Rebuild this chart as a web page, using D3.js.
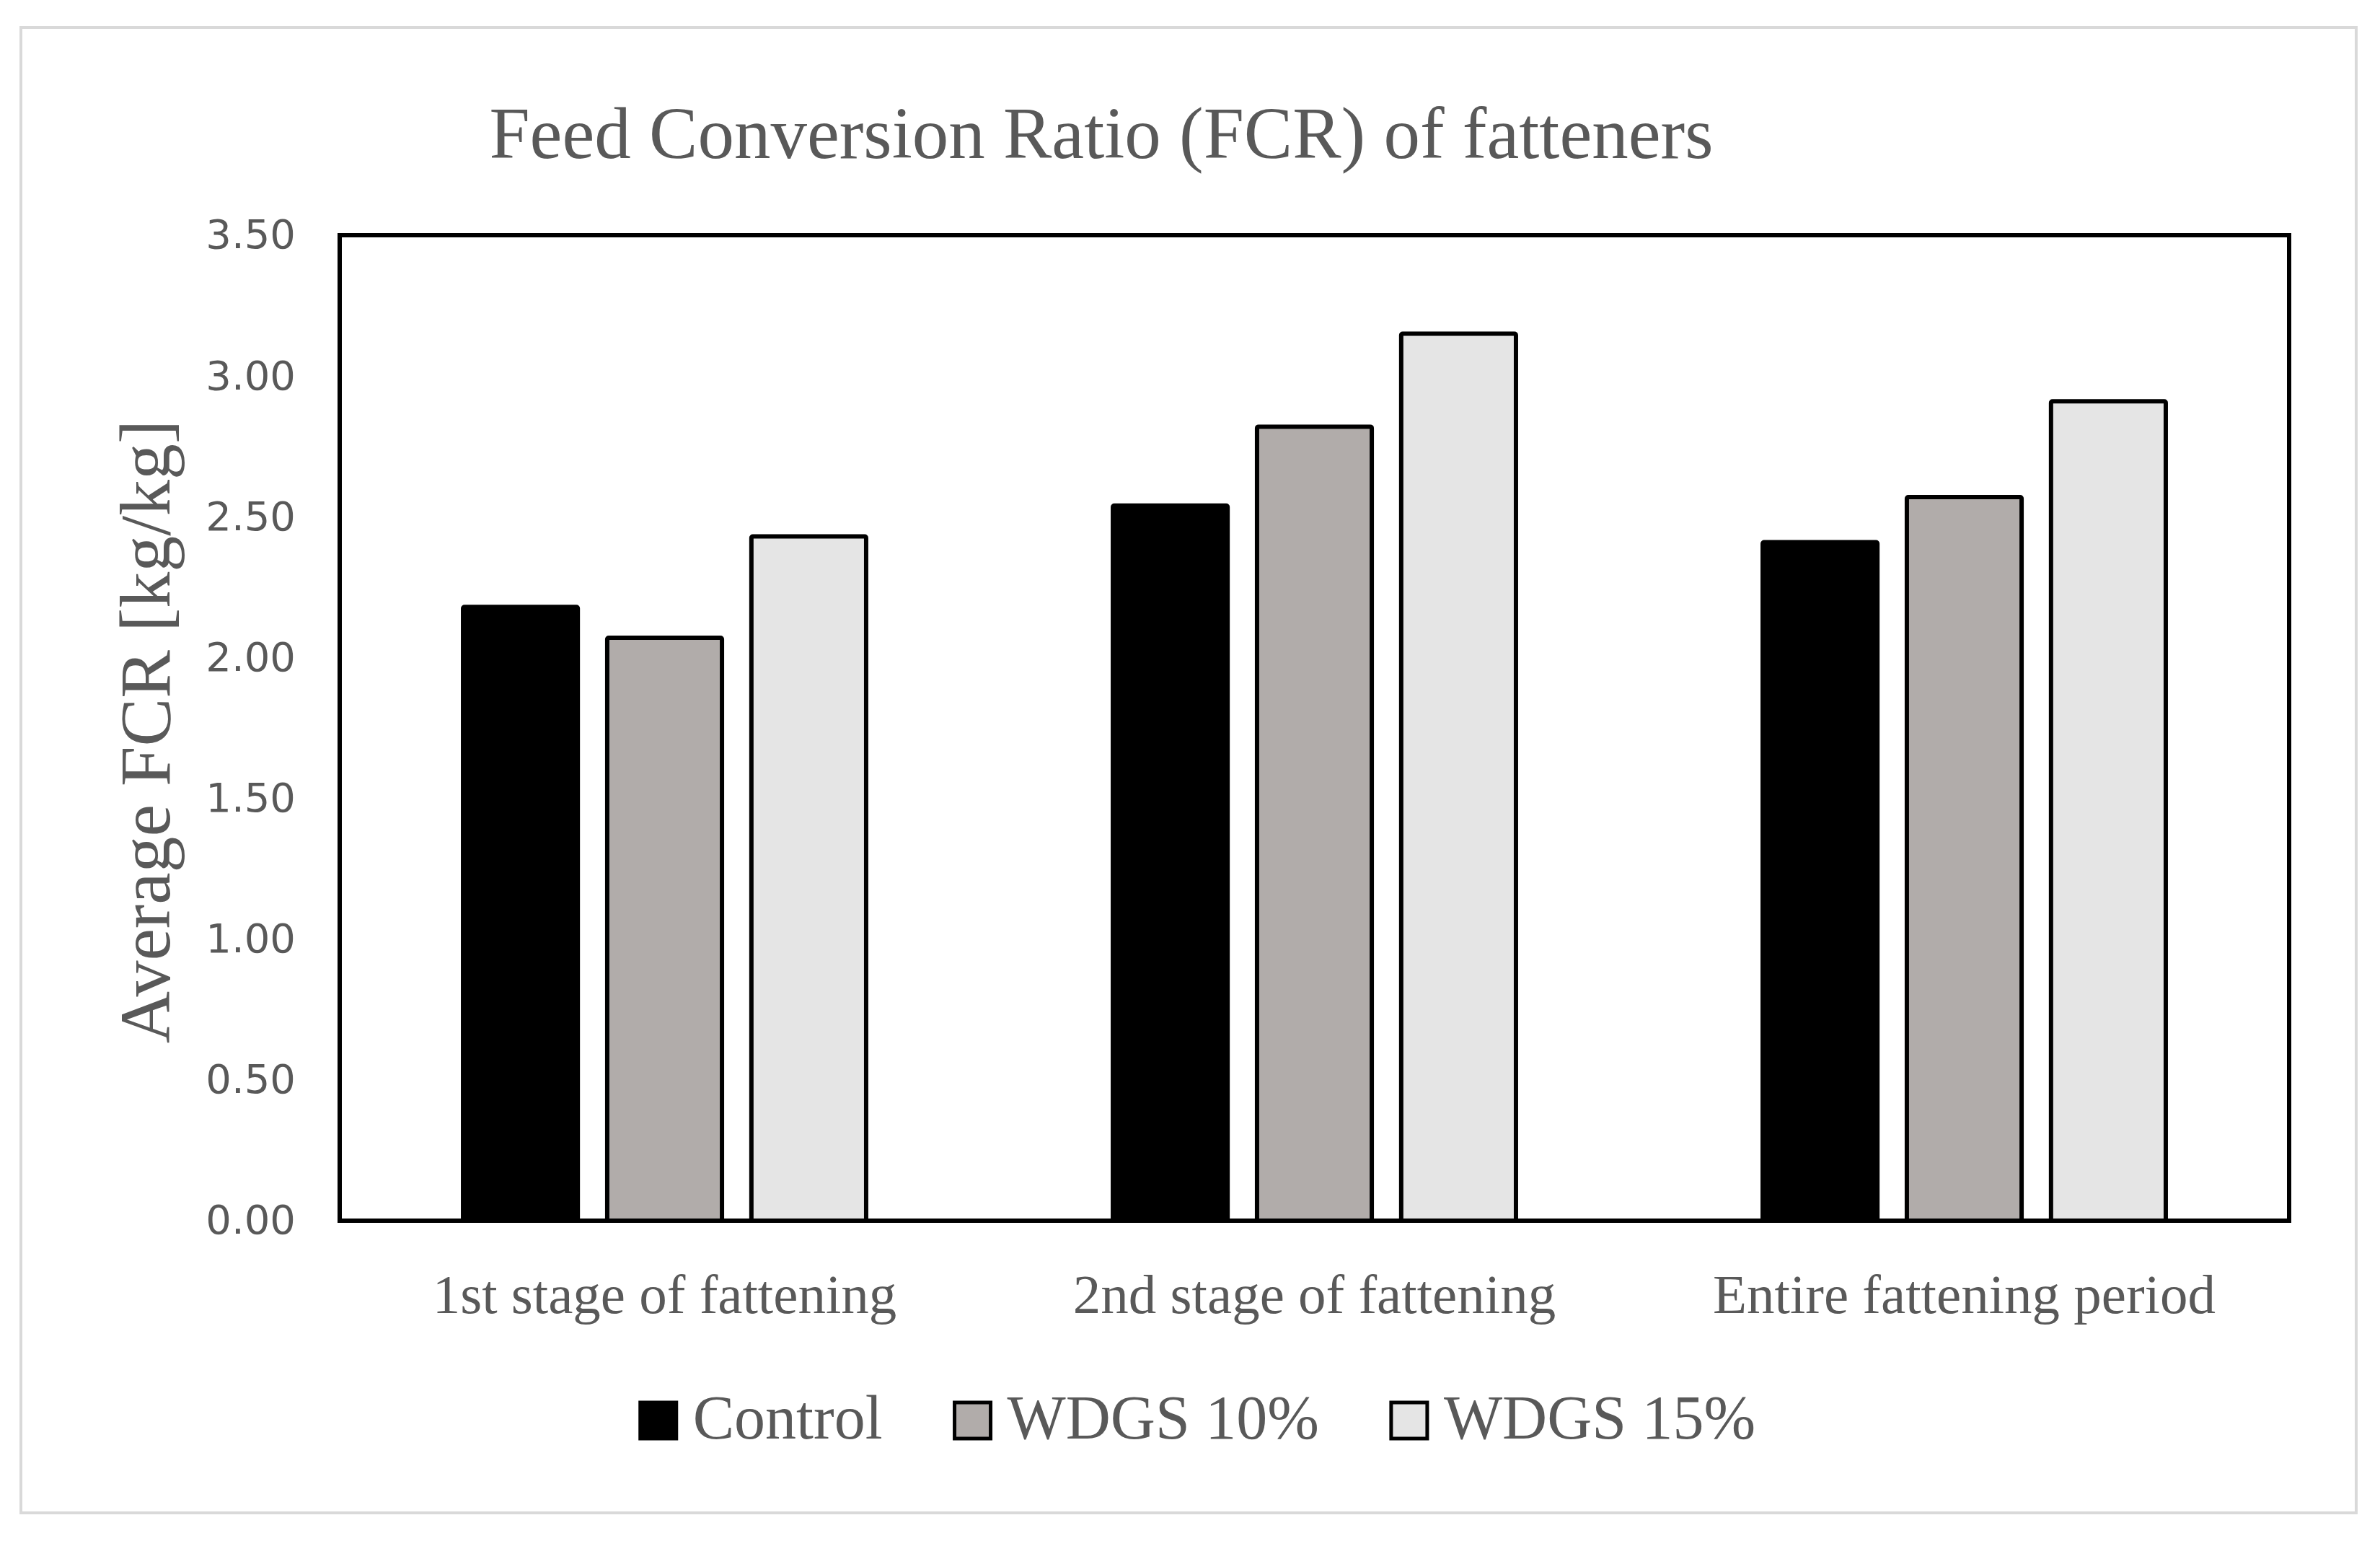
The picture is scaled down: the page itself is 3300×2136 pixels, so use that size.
<!DOCTYPE html>
<html>
<head>
<meta charset="utf-8">
<script src="https://cdn.jsdelivr.net/npm/d3@7"></script>
<style>
  html, body { margin: 0; padding: 0; background: #ffffff; }
  svg { display: block; }
</style>
</head>
<body>
<svg id="chart" width="3300" height="2136"></svg>
<script>
// ---- data ----
const categories = ["1st stage of fattening", "2nd stage of fattening", "Entire fattening period"];
const seriesNames = ["Control", "WDGS 10%", "WDGS 15%"];
const controlValues = [2.18, 2.54, 2.41];
const wdgs10Values = [2.07, 2.82, 2.57];
const wdgs15Values = [2.43, 3.15, 2.91];
const seriesColors = ["#000000", "#b1acaa", "#e5e5e5"];
const yTickValues = [0, 0.5, 1.0, 1.5, 2.0, 2.5, 3.0, 3.5];
const chartTitle = "Feed Conversion Ratio (FCR) of fatteners";
const yAxisTitle = "Average FCR [kg/kg]";

const seriesValues = [controlValues, wdgs10Values, wdgs15Values];

// ---- layout ----
const W = 3300, H = 2136;
const plot = { left: 471, right: 3174, top: 326, bottom: 1692 };
const textGray = "#595959";
const serif = "'Liberation Serif', 'Times New Roman', serif";
const sans = "'DejaVu Sans', Verdana, sans-serif";

const svg = d3.select("#chart");

svg.append("rect").attr("x", 0).attr("y", 0).attr("width", W).attr("height", H).attr("fill", "#ffffff");

// outer frame
svg.append("rect")
  .attr("x", 29).attr("y", 38).attr("width", 3267 - 29).attr("height", 2097 - 38)
  .attr("fill", "none").attr("stroke", "#d9d9d9").attr("stroke-width", 4);

// scales
const x0 = d3.scaleBand().domain(categories).range([plot.left, plot.right])
  .paddingInner(0.373).paddingOuter(0.1865);
const x1 = d3.scaleBand().domain(seriesNames).range([0, x0.bandwidth()])
  .paddingInner(0.174).paddingOuter(0);
const y = d3.scaleLinear().domain([0, 3.5]).range([plot.bottom, plot.top]);

// title
svg.append("text")
  .attr("x", 1527).attr("y", 219)
  .attr("text-anchor", "middle")
  .attr("font-family", serif).attr("font-size", 101)
  .attr("fill", textGray)
  .text(chartTitle);

// y axis labels
const yAxis = d3.axisLeft(y).tickValues(yTickValues).tickFormat(d3.format(".2f"))
  .tickSize(0).tickPadding(plot.left - 410);
const gy = svg.append("g").attr("transform", `translate(${plot.left},0)`).call(yAxis);
gy.select(".domain").remove();
gy.selectAll("text")
  .attr("font-family", sans).attr("font-size", 56)
  .attr("fill", textGray);

// y axis title
svg.append("text")
  .attr("transform", `translate(235, ${(plot.top + plot.bottom) / 2 + 5}) rotate(-90)`)
  .attr("text-anchor", "middle")
  .attr("font-family", serif).attr("font-size", 100)
  .attr("fill", textGray)
  .text(yAxisTitle);

// bars
const groups = svg.append("g").selectAll("g")
  .data(categories)
  .join("g")
  .attr("transform", d => `translate(${x0(d)},0)`);

groups.selectAll("rect")
  .data((c, ci) => seriesNames.map((s, si) => ({ s, si, v: seriesValues[si][ci] })))
  .join("rect")
  .attr("x", d => x1(d.s) + 3)
  .attr("width", x1.bandwidth() - 6)
  .attr("y", d => y(d.v))
  .attr("height", d => y(0) - y(d.v))
  .attr("rx", 2)
  .attr("fill", d => seriesColors[d.si])
  .attr("stroke", "#000000")
  .attr("stroke-width", 6);

// plot area border
svg.append("rect")
  .attr("x", plot.left).attr("y", plot.top)
  .attr("width", plot.right - plot.left).attr("height", plot.bottom - plot.top)
  .attr("fill", "none").attr("stroke", "#000000").attr("stroke-width", 6);

// x axis labels
const xAxis = d3.axisBottom(x0).tickSize(0).tickPadding(0);
const gx = svg.append("g").attr("transform", `translate(0,${plot.bottom})`).call(xAxis);
gx.select(".domain").remove();
gx.selectAll("text")
  .attr("y", 128).attr("dy", 0)
  .attr("font-family", serif).attr("font-size", 77)
  .attr("fill", textGray);

// legend
const legend = svg.append("g");
const sw = 50, gapText = 23, gapItem = 100;
let cx = 0;
seriesNames.forEach((name, i) => {
  const g = legend.append("g");
  g.append("rect")
    .attr("x", 0).attr("y", -sw / 2)
    .attr("width", sw).attr("height", sw)
    .attr("fill", seriesColors[i]).attr("stroke", "#000000").attr("stroke-width", 5);
  const t = g.append("text")
    .attr("x", sw + gapText).attr("y", 25)
    .attr("font-family", serif).attr("font-size", 86)
    .attr("fill", textGray)
    .text(name);
  const w = sw + gapText + t.node().getComputedTextLength();
  g.attr("transform", `translate(${cx},0)`);
  cx += w + gapItem;
});
const totalW = cx - gapItem;
legend.attr("transform", `translate(${1661 - totalW / 2}, 1969)`);
</script>
</body>
</html>
